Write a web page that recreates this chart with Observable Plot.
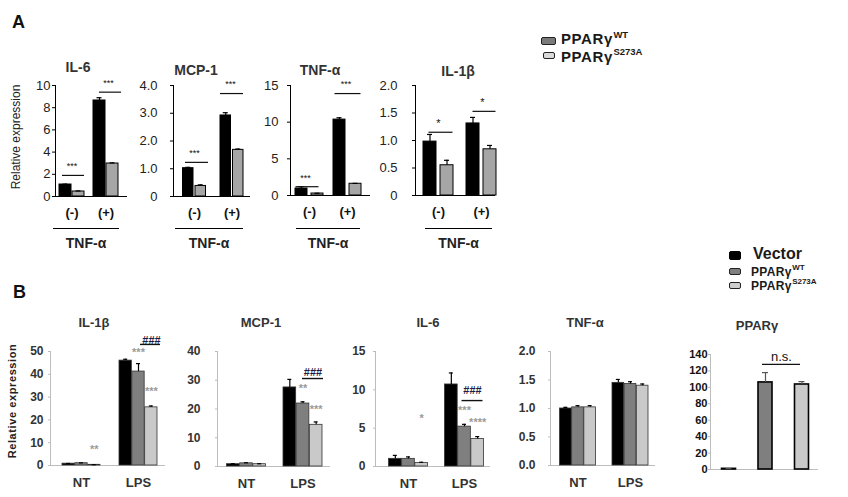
<!DOCTYPE html>
<html><head><meta charset="utf-8">
<script src="https://cdn.jsdelivr.net/npm/d3@7"></script>
<script src="https://cdn.jsdelivr.net/npm/@observablehq/plot@0.6"></script>
<style>
body{margin:0;background:#fff;font-family:"Liberation Sans",Arial,sans-serif;}
#root{position:relative;width:848px;height:497px;overflow:hidden;background:#fff;}
.abs{position:absolute;white-space:nowrap;line-height:1;}
.pA [aria-label^="x-axis"] text{font-weight:bold;font-size:13px;fill:#111;}
.pA [aria-label^="y-axis"] text{font-size:13px;fill:#222;}
.pB [aria-label^="x-axis"] text{font-weight:bold;font-size:13px;fill:#333;}
.pB [aria-label^="y-axis"] text{font-weight:bold;font-size:12px;fill:#333;}
.pP [aria-label^="y-axis"] text{font-weight:bold;font-size:11px;fill:#111;}
</style>
</head><body><div id="root"></div>
<script>
// ---------------- DATA ----------------
const groupsA = ["(-)", "(+)"];
const seriesA = [["PPARγ", "WT"], ["PPARγ", "S273A"]];
const genesA = ["IL-6", "MCP-1", "TNF-α", "IL-1β"];
const ticksA_IL6 = [0, 2, 4, 6, 8, 10];
const ticksA_MCP1 = [0, 1, 2, 3, 4];
const ticksA_TNF = [0, 5, 10, 15];
const ticksA_IL1B = [0, 0.5, 1, 1.5, 2];
// values per group: [WT, S273A]
const A_IL6 = [[1.08, 0.45], [8.65, 2.97]];
const A_IL6_err = [[0.03, 0.05], [0.25, 0.06]];
const A_MCP1 = [[1.02, 0.38], [2.92, 1.68]];
const A_MCP1_err = [[0.03, 0.04], [0.1, 0.03]];
const A_TNF = [[0.95, 0.27], [10.35, 1.6]];
const A_TNF_err = [[0.25, 0.03], [0.25, 0.05]];
const A_IL1B = [[0.98, 0.55], [1.31, 0.84]];
const A_IL1B_err = [[0.13, 0.09], [0.11, 0.07]];
const A_IL6_sig = [{g: "(-)", y: 1.9, label: "***"}, {g: "(+)", y: 9.4, label: "***"}];
const A_MCP1_sig = [{g: "(-)", y: 1.23, label: "***"}, {g: "(+)", y: 3.71, label: "***"}];
const A_TNF_sig = [{g: "(-)", y: 1.2, label: "***"}, {g: "(+)", y: 13.9, label: "***"}];
const A_IL1B_sig = [{g: "(-)", y: 1.15, label: "*"}, {g: "(+)", y: 1.53, label: "*"}];

const groupsB = ["NT", "LPS"];
const seriesB = [["Vector", ""], ["PPARγ", "WT"], ["PPARγ", "S273A"]];
const genesB = ["IL-1β", "MCP-1", "IL-6", "TNF-α", "PPARγ"];
const ticksB_IL1B = [0, 10, 20, 30, 40, 50];
const ticksB_MCP1 = [0, 10, 20, 30, 40];
const ticksB_IL6 = [0, 5, 10, 15];
const ticksB_TNF = [0, 0.5, 1, 1.5, 2];
const ticksB_PPARG = [0, 20, 40, 60, 80, 100, 120, 140];
// values per group: [Vector, WT, S273A]
const B_IL1B = [[0.8, 1.0, 0.3], [46, 41.2, 25.5]];
const B_IL1B_err = [[0.1, 0.15, 0.05], [0.6, 3.5, 0.6]];
const B_MCP1 = [[0.8, 1.1, 0.8], [27.5, 21.9, 14.5]];
const B_MCP1_err = [[0.15, 0.2, 0.15], [2.8, 0.6, 1.0]];
const B_IL6 = [[1.0, 1.0, 0.45], [10.7, 5.2, 3.6]];
const B_IL6_err = [[0.45, 0.25, 0.1], [1.5, 0.3, 0.3]];
const B_TNF = [[1.0, 1.02, 1.02], [1.45, 1.43, 1.40]];
const B_TNF_err = [[0.02, 0.03, 0.03], [0.06, 0.04, 0.03]];
const groupsP = ["Vector", "PPARγWT", "PPARγS273A"];
const B_PPARG = [[0.8], [106], [103.5]];
const B_PPARG_err = [[0.3], [12], [3.5]];
const B_PPARG_sig = [{g: "PPARγWT", y: 128, label: "n.s."}];
// star annotations: s = index of the bar within the group
const B_IL1B_stars = [{g: "NT", s: 2, y: 7, label: "**"}, {g: "LPS", s: 1, y: 49.5, label: "***"}, {g: "LPS", s: 2, y: 32.5, label: "***"}];
const B_MCP1_stars = [{g: "LPS", s: 1, y: 27, label: "**"}, {g: "LPS", s: 2, y: 20, label: "***"}];
const B_IL6_stars = [{g: "NT", s: 2, y: 6.2, label: "*"}, {g: "LPS", s: 1, y: 7.3, label: "***"}, {g: "LPS", s: 2, y: 5.7, label: "****"}];
const B_IL1B_hash = [{g: "LPS", y: 53.1, ty: 54.8, label: "###"}];
const B_MCP1_hash = [{g: "LPS", y: 30.6, ty: 32.7, label: "###"}];
const B_IL6_hash = [{g: "LPS", y: 8.6, ty: 9.9, label: "###"}];

// ---------------- RENDER ----------------
const FONT = '"Liberation Sans", Arial, sans-serif';
const root = document.getElementById("root");
const colorsA = ["#000000", "#a6a6a6"];
const colorsB = ["#000000", "#7f7f7f", "#c9c9c9"];
const fmt1 = d => d === 0 ? "0" : d.toFixed(1);

function panel(cfg) {
  const {axisX, axisEnd, y0, yTop, ymax, ticks, fmt = d => d, centers, bw, gap = 1, colors, colorByGroup = false,
    stroke = "#000", strokeWidth = 1, ml = 45, mr = 8, mt = 45, mb = 30,
    yTickSize = 3, yTickPadding = 3, xTickPadding = 11, showX = true, cls = "pA",
    groups, values, errs, capW = 5, errColor = "#000", axisColor = "#000",
    sig = [], sigInsets = [], sigDx = [], sigDy = -9, sigFont = 9, sigColor = "#111", sigWidth = 1.2,
    stars = [], starColor = "#9a9a9a", starFont = 11,
    hash = [], hashInsets = [0, 0], hashDx = 0} = cfg;
  const n = values[0].length;
  const w = (bw - (n - 1) * gap) / n;
  const L = si => si * (w + gap);
  const cx = si => L(si) + w / 2 - bw / 2;
  const s = centers.length > 1 ? (centers[centers.length - 1] - centers[0]) / (centers.length - 1) : bw * 2;
  const pi = 1 - bw / s;
  const left = axisX - ml, top = yTop - mt;
  const width = Math.ceil(axisEnd - left + mr), height = Math.ceil(y0 - top + mb);
  const marks = [Plot.ruleY([0], {stroke: axisColor, strokeWidth: 1})];
  groups.forEach((g, gi) => values[gi].forEach((v, si) => {
    const fill = colors[colorByGroup ? gi : si];
    const row = [{g, v, e: errs[gi][si]}];
    marks.push(Plot.barY(row, {x: "g", y: "v", fill, stroke, strokeWidth, insetLeft: L(si), insetRight: bw - L(si) - w}));
    marks.push(Plot.ruleX(row, {x: "g", y1: "v", y2: d => d.v + d.e, stroke: errColor, strokeWidth: 1.2, dx: cx(si)}));
    marks.push(Plot.tickY(row, {x: "g", y: d => d.v + d.e, stroke: errColor, strokeWidth: 1.2,
      insetLeft: L(si) + w / 2 - capW / 2, insetRight: bw - (L(si) + w / 2 + capW / 2)}));
  }));
  sig.forEach((d, k) => {
    const [il, ir] = sigInsets[k];
    marks.push(Plot.tickY([d], {x: "g", y: "y", stroke: sigColor, strokeWidth: sigWidth, insetLeft: il, insetRight: ir}));
    marks.push(Plot.text([d], {x: "g", y: "y", text: "label", dx: sigDx[k] || 0, dy: sigDy, fontSize: sigFont, fill: sigColor}));
  });
  stars.forEach(d => marks.push(Plot.text([d], {x: "g", y: "y", text: "label", dx: cx(d.s), fill: starColor, fontSize: starFont, fontWeight: "bold"})));
  hash.forEach(d => {
    marks.push(Plot.tickY([d], {x: "g", y: "y", stroke: "#111", strokeWidth: 1.4, insetLeft: hashInsets[0], insetRight: hashInsets[1]}));
    marks.push(Plot.text([d], {x: "g", y: "ty", text: "label", dx: hashDx, fill: "#1d1d45", fontSize: 11, fontWeight: "bold"}));
  });
  const svg = Plot.plot({
    width, height,
    marginLeft: ml, marginRight: width - (axisEnd - left), marginTop: mt, marginBottom: height - (y0 - top),
    x: {domain: groups, range: [centers[0] - s / 2 - left, centers[centers.length - 1] + s / 2 - left],
      paddingInner: pi, paddingOuter: pi / 2, align: 0.5, round: false,
      axis: showX ? "bottom" : null, tickSize: 0, tickPadding: xTickPadding, label: null},
    y: {domain: [0, ymax], ticks, tickFormat: fmt, tickSize: yTickSize, tickPadding: yTickPadding, line: true, label: null},
    style: {fontFamily: FONT, fontSize: "12px", color: axisColor, background: "transparent", overflow: "visible"},
    marks
  });
  const div = document.createElement("div");
  div.className = "abs " + cls;
  div.style.left = left + "px";
  div.style.top = top + "px";
  div.appendChild(svg);
  root.appendChild(div);
}

function label(text, cx, baseline, size, opts = {}) {
  const el = document.createElement("div");
  el.className = "abs";
  el.textContent = text;
  el.style.fontSize = size + "px";
  el.style.fontWeight = opts.weight || "bold";
  el.style.color = opts.color || "#222";
  if (opts.spacing) el.style.letterSpacing = opts.spacing;
  el.style.top = (baseline - 0.8465 * size) + "px";
  el.style.left = cx + "px";
  if (!opts.leftAlign) el.style.transform = "translateX(-50%)";
  root.appendChild(el);
  return el;
}
// main text + separate superscript element
function legendText([main, supText], x, baseline, size, supSize, opts = {}) {
  const el = label(main, x, baseline, size, {leftAlign: true, ...opts});
  if (supText) {
    const wMain = el.getBoundingClientRect().width;
    label(supText, x + wMain + 0.5, baseline - size * 0.42, supSize, {leftAlign: true, ...opts, spacing: "0px"});
  }
}
function hline(x1, x2, y, color = "#000", h = 1.3) {
  const el = document.createElement("div");
  el.className = "abs";
  Object.assign(el.style, {left: x1 + "px", top: y + "px", width: (x2 - x1) + "px", height: h + "px", background: color});
  root.appendChild(el);
}
function swatch(x, y, w, h, color, border = "#222") {
  const el = document.createElement("div");
  el.className = "abs";
  Object.assign(el.style, {left: x + "px", top: y + "px", width: w + "px", height: h + "px", background: color,
    border: "1px solid " + border, borderRadius: "2px", boxSizing: "border-box"});
  root.appendChild(el);
}
function vlabel(text, cx, cy, size, weight, spacing) {
  const el = document.createElement("div");
  el.className = "abs";
  el.textContent = text;
  Object.assign(el.style, {left: cx + "px", top: cy + "px", fontSize: size + "px", fontWeight: weight, color: "#222",
    letterSpacing: spacing || "0", transform: "translate(-50%,-50%) rotate(-90deg)"});
  root.appendChild(el);
}

// ---- Panel A ----
const commonA = {cls: "pA", groups: groupsA, colors: colorsA, axisColor: "#000"};
panel({...commonA, axisX: 55, axisEnd: 127, y0: 196, yTop: 85, ymax: 10, ticks: ticksA_IL6,
  centers: [71.5, 105.5], bw: 25, gap: 1, values: A_IL6, errs: A_IL6_err, yTickPadding: 2,
  sig: A_IL6_sig, sigInsets: [[3, 0], [6, -3]], sigDx: [0, 2.5]});
panel({...commonA, axisX: 173, axisEnd: 250, y0: 196, yTop: 85, ymax: 4, ticks: ticksA_MCP1, fmt: fmt1,
  centers: [194, 231.5], bw: 23, gap: 2, values: A_MCP1, errs: A_MCP1_err, yTickPadding: 13,
  sig: A_MCP1_sig, sigInsets: [[2.5, -2.5], [0, 0]], sigDx: [0, -1.5]});
panel({...commonA, axisX: 290, axisEnd: 370, y0: 195, yTop: 85, ymax: 15, ticks: ticksA_TNF,
  centers: [309, 347], bw: 28, gap: 4, values: A_TNF, errs: A_TNF_err, yTickPadding: 9,
  sig: A_TNF_sig, sigInsets: [[0.5, 4.5], [1.5, 0.5]], sigDx: [-4, -1.5]});
panel({...commonA, axisX: 415, axisEnd: 495, y0: 195, yTop: 85, ymax: 2, ticks: ticksA_IL1B, fmt: fmt1,
  centers: [438, 481], bw: 30, gap: 4, values: A_IL1B, errs: A_IL1B_err, yTickPadding: 15,
  sig: A_IL1B_sig, sigInsets: [[5.5, 0.5], [6.5, 0.5]], sigDx: [0, 1], sigFont: 11});

label("A", 12, 28, 18, {leftAlign: true, color: "#111"});
[[genesA[0], 78, 72], [genesA[1], 196, 75], [genesA[2], 320, 75], [genesA[3], 458, 76]]
  .forEach(([t, x, b]) => label(t, x, b, 14, {color: "#333"}));
[[53, 119], [175, 243], [296, 360], [425, 492]].forEach(([x1, x2]) => {
  hline(x1, x2, 227.5);
  label("TNF-α", (x1 + x2) / 2, 248, 14, {color: "#222"});
});
vlabel("Relative expression", 16, 137, 12, "normal");
// legend A
swatch(541, 37, 15, 8, "#7a7a7a");
swatch(543, 52, 12, 7, "#d9d9d9");
legendText(seriesA[0], 561, 44, 15, 9.5, {color: "#1a1a1a", spacing: "0.6px"});
legendText(seriesA[1], 561, 61.5, 15, 9.5, {color: "#1a1a1a", spacing: "0.6px"});

// ---- Panel B ----
const commonB = {cls: "pB", groups: groupsB, colors: colorsB, axisColor: "#bdbdbd", stroke: "#333", strokeWidth: 0.8,
  gap: 0.5, capW: 4, xTickPadding: 12, yTickSize: 2};
panel({...commonB, axisX: 50, axisEnd: 165, y0: 465, yTop: 351, ymax: 50, ticks: ticksB_IL1B,
  centers: [81, 138], bw: 38, values: B_IL1B, errs: B_IL1B_err, yTickPadding: 5,
  stars: B_IL1B_stars, hash: B_IL1B_hash, hashInsets: [21, -3], hashDx: 13});
panel({...commonB, axisX: 217, axisEnd: 330, y0: 466, yTop: 351, ymax: 40, ticks: ticksB_MCP1,
  centers: [246, 302.5], bw: 39, values: B_MCP1, errs: B_MCP1_err, yTickPadding: 15,
  stars: B_MCP1_stars, hash: B_MCP1_hash, hashInsets: [19, -1], hashDx: 10});
panel({...commonB, axisX: 375, axisEnd: 490, y0: 466, yTop: 351, ymax: 15, ticks: ticksB_IL6,
  centers: [408, 464], bw: 39, values: B_IL6, errs: B_IL6_err, yTickPadding: 8,
  stars: B_IL6_stars, hash: B_IL6_hash, hashInsets: [17, 1], hashDx: 8});
panel({...commonB, axisX: 550, axisEnd: 655, y0: 465, yTop: 351, ymax: 2, ticks: ticksB_TNF, fmt: d => d.toFixed(1),
  centers: [577.5, 630], bw: 36, values: B_TNF, errs: B_TNF_err, yTickPadding: 13});
panel({...commonB, cls: "pP", groups: groupsP, colorByGroup: true, stroke: "#000", strokeWidth: 1.6,
  axisX: 710, axisEnd: 818, y0: 469, yTop: 354, ymax: 140, ticks: ticksB_PPARG, showX: false, ml: 35,
  centers: [728.5, 765, 801.5], bw: 14, values: B_PPARG, errs: B_PPARG_err, yTickPadding: 1, capW: 6,
  sig: B_PPARG_sig, sigInsets: [[4, -28]], sigDx: [16], sigDy: -8, sigFont: 13, sigColor: "#111", errColor: "#555"});

label("B", 13, 298, 18, {leftAlign: true, color: "#111"});
[[genesB[0], 94, 327], [genesB[1], 261, 327], [genesB[2], 428, 327], [genesB[3], 585, 327], [genesB[4], 757, 330]]
  .forEach(([t, x, b]) => label(t, x, b, 13, {color: "#333"}));
vlabel("Relative expression", 12, 401, 11, "bold", "0.6px");
// legend B
swatch(729, 251, 12, 9, "#000", "#000");
swatch(729, 268, 12, 7, "#7f7f7f");
swatch(729, 282, 12, 7, "#cfcfcf");
legendText(seriesB[0], 753, 260, 16, 9, {color: "#1a1a1a"});
legendText(seriesB[1], 751, 276, 12, 8, {color: "#1a1a1a", spacing: "0.3px"});
legendText(seriesB[2], 751, 290, 12, 8, {color: "#1a1a1a", spacing: "0.3px"});
</script>
</body></html>
